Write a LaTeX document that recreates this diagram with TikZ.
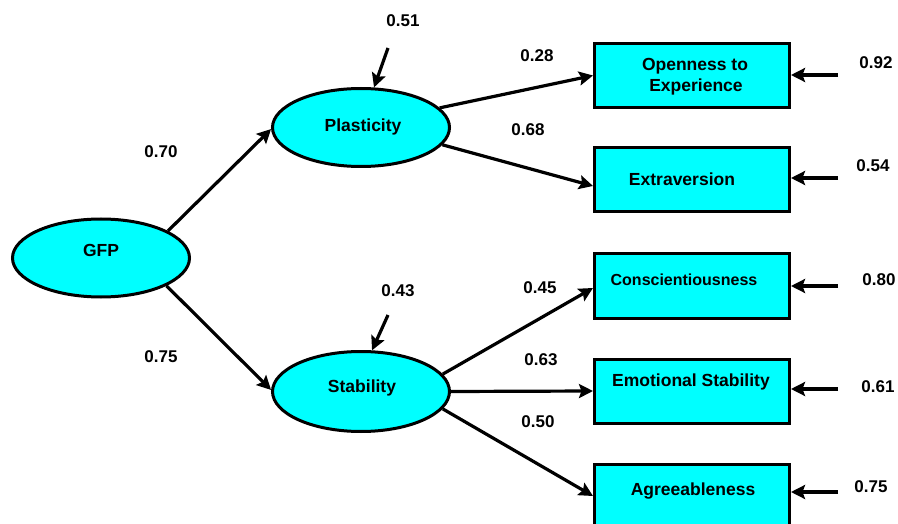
\documentclass[tikz,border=0pt]{standalone}
\usepackage{fontspec}
\setmainfont{Liberation Sans}
\usetikzlibrary{shapes.geometric,arrows.meta}
\definecolor{aqua}{RGB}{0,255,255}
\begin{document}
\begin{tikzpicture}[x=1pt,y=-1pt,
 lv/.style={ellipse,draw,line width=3pt,fill=aqua,minimum width=177pt,minimum height=78pt,inner sep=0pt},
 mv/.style={rectangle,draw,line width=3pt,fill=aqua,minimum width=195pt,minimum height=64pt,inner sep=0pt},
 txt/.style={font=\fontsize{17.5}{21}\selectfont\bfseries,anchor=base,inner sep=0pt},
 num/.style={font=\fontsize{17}{20}\selectfont\bfseries,anchor=base,inner sep=0pt},
 arr/.style={line width=3.2pt,-{Stealth[length=14pt,width=14pt,inset=2.5pt]}}]
\clip (0,0) rectangle (898,524);
\fill[white] (0,0) rectangle (898,524);
% latent variables
\node[lv] (gfp) at (101,258) {};
\node[lv] (plast) at (361,127.5) {};
\node[lv,minimum height=80pt] (stab) at (361,391.5) {};
% observed variables
\node[mv] (open) at (692,75.5) {};
\node[mv] (extra) at (692,180) {};
\node[mv] (consc) at (692,286) {};
\node[mv] (es) at (692,391) {};
\node[mv] (agree) at (692,496) {};
% texts
\node[txt] (tgfp) at (101,256) {GFP};
\node[txt] (tplast) at (363,132) {Plasticity};
\node[txt] (tstab) at (362,392) {Stability};
\node[txt] (topen1) at (695,71) {Openness to};
\node[txt] (topen2) at (696,92) {Experience};
\node[txt] (textra) at (682,186) {Extraversion};
\node[txt,font=\fontsize{16}{19}\selectfont\bfseries] (tconsc) at (684,285) {Conscientiousness};
\node[txt] (tes) at (691,386) {Emotional Stability};
\node[txt] (tagree) at (693,495) {Agreeableness};
% numbers
\node[num] (n70) at (161,158) {0.70};
\node[num] (n75a) at (161,362) {0.75};
\node[num] (n51) at (403,27) {0.51};
\node[num] (n43) at (398,297) {0.43};
\node[num] (n28) at (537,62) {0.28};
\node[num] (n68) at (528,136) {0.68};
\node[num] (n45) at (540,294) {0.45};
\node[num] (n63) at (541,365) {0.63};
\node[num] (n50) at (538,427) {0.50};
\node[num] (n92) at (876,69) {0.92};
\node[num] (n54) at (873,172) {0.54};
\node[num] (n80) at (879,285) {0.80};
\node[num] (n61) at (878,392) {0.61};
\node[num] (n75b) at (871,492) {0.75};
% paths
\draw[arr] (gfp.22) -- (plast.181.5);
\draw[arr] (gfp.-23.5) -- (stab.179);
\draw[arr] (plast.14.5) -- (open.west);
\draw[arr] (plast.-12) -- ([yshift=-6pt]extra.west);
\draw[arr] (stab.12.6) -- ([yshift=-2pt]consc.west);
\draw[arr] (stab.east) -- (es.west);
\draw[arr] (stab.-12.9) -- (agree.west);
% disturbances
\coordinate (rp) at (388,48);
\coordinate (rs) at (388,315);
\draw[arr] (rp) -- (plast.72);
\draw[arr] (rs) -- (stab.75);
% errors
\coordinate (e1) at (838,75);
\coordinate (e2) at (838,178);
\coordinate (e3) at (838,286);
\coordinate (e4) at (838,389);
\coordinate (e5) at (838,492);
\draw[arr] (e1) -- (e1 -| open.east);
\draw[arr] (e2) -- (e2 -| extra.east);
\draw[arr] (e3) -- (e3 -| consc.east);
\draw[arr] (e4) -- (e4 -| es.east);
\draw[arr] (e5) -- (e5 -| agree.east);
\end{tikzpicture}
\end{document}
